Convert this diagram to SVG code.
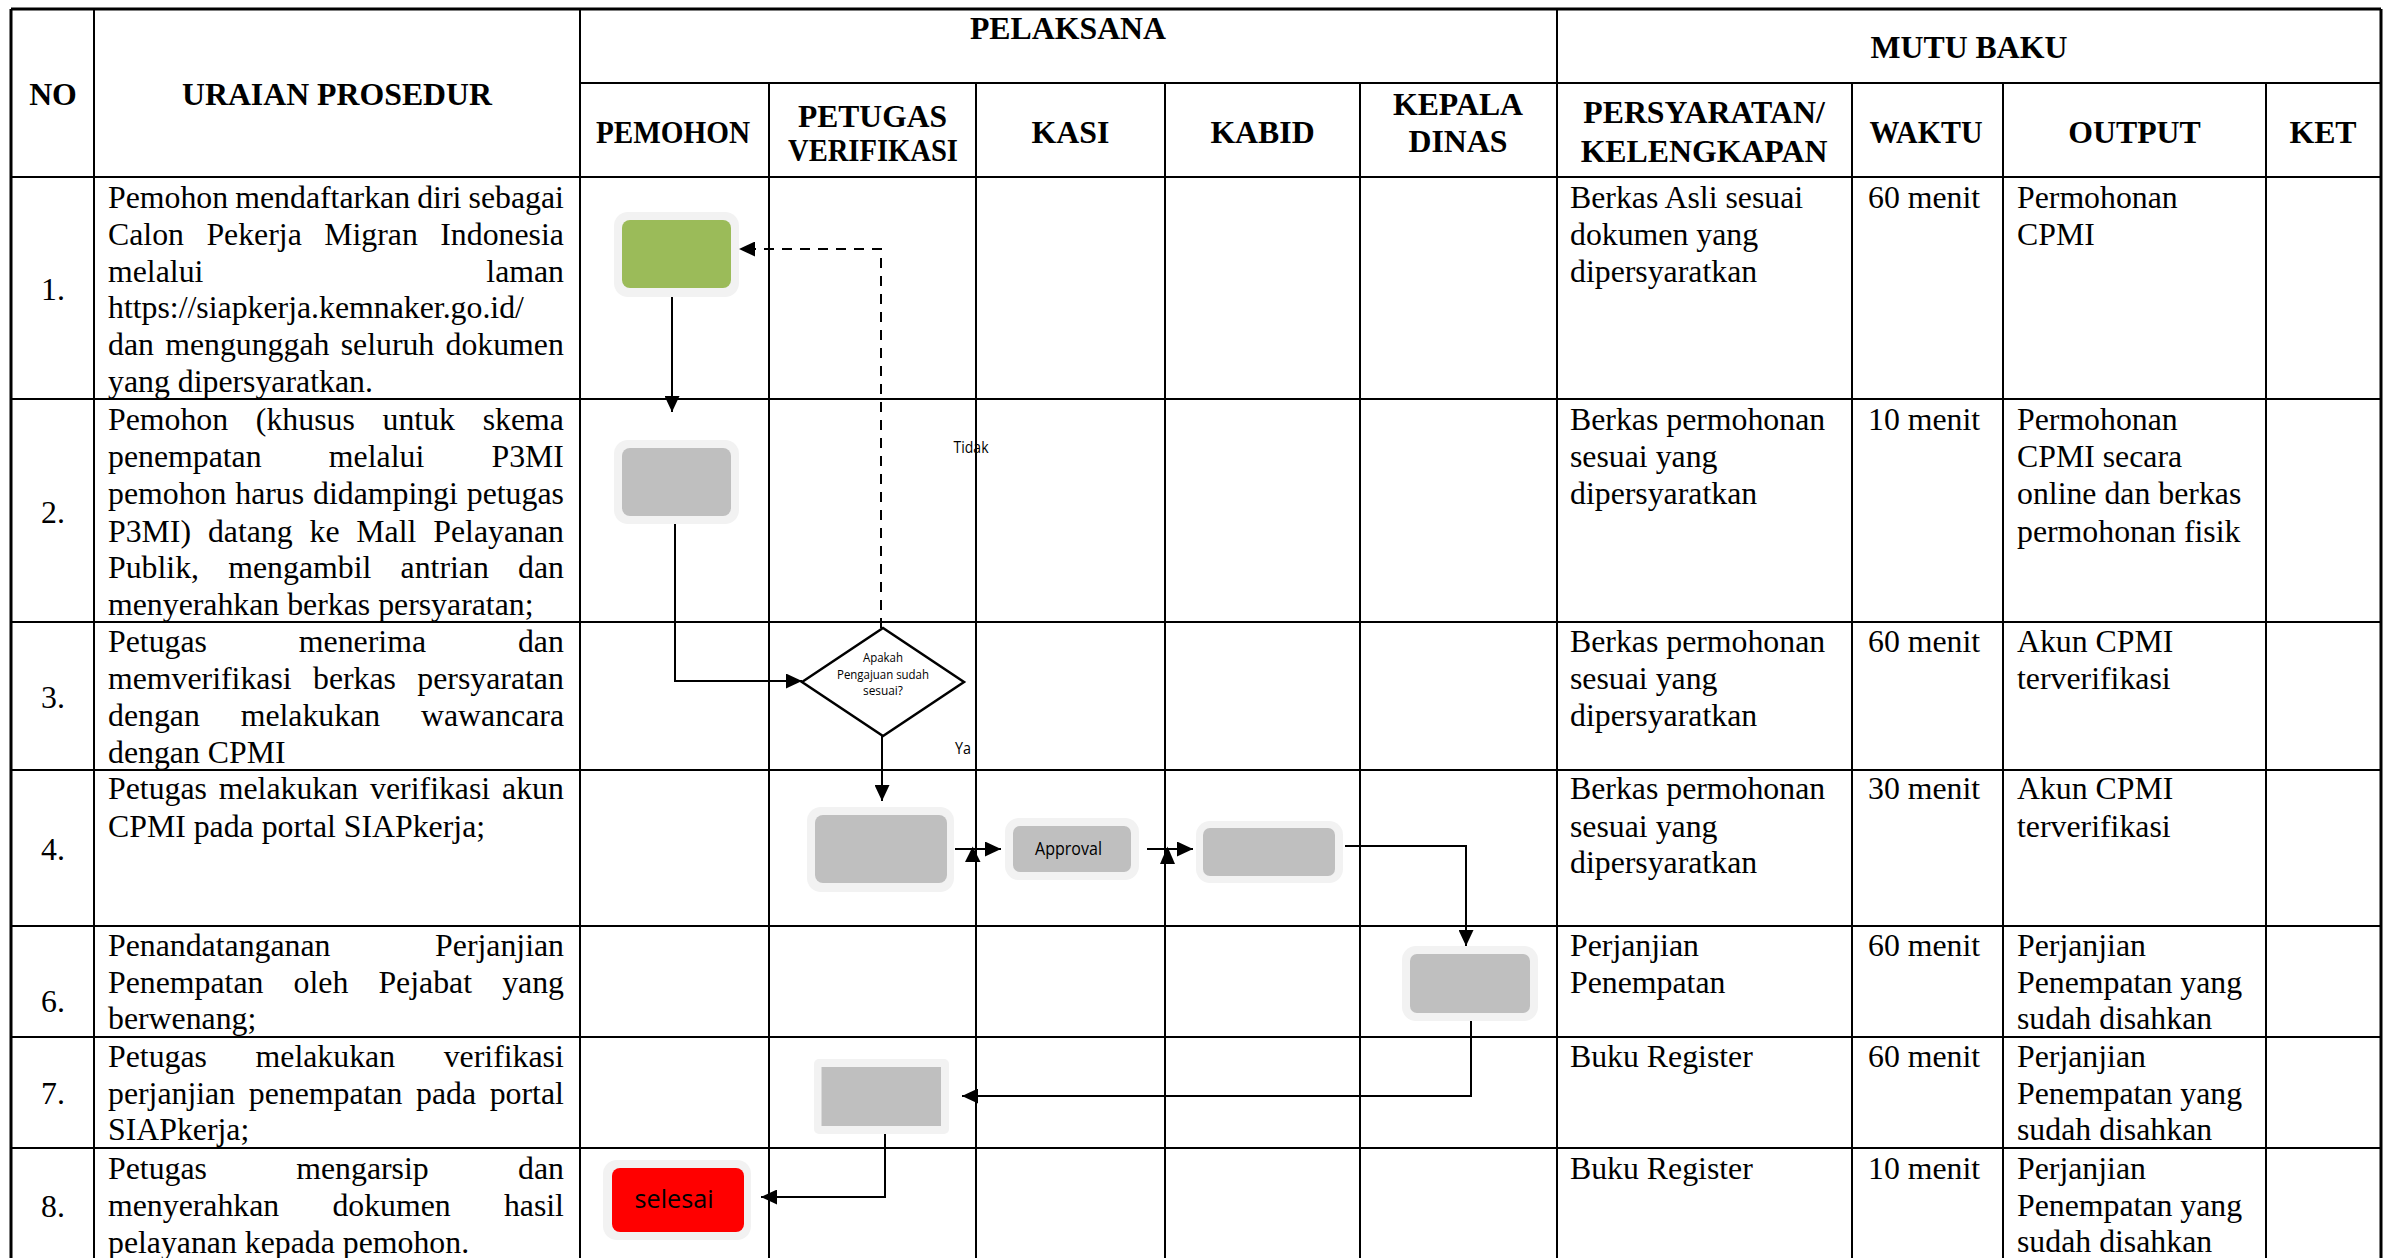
<svg xmlns="http://www.w3.org/2000/svg" width="2385" height="1258" viewBox="0 0 2385 1258">
<style>
.t{font-family:"Liberation Serif","Times New Roman",serif;font-size:31.8px;fill:#000}
.b{font-weight:bold;text-anchor:middle}
.m{text-anchor:middle}
.e{text-anchor:end}
.s{font-family:"Open Sans","Noto Sans",sans-serif;fill:#000}
.g{stroke:#000;stroke-width:2;fill:none}
.o{stroke:#000;stroke-width:3;fill:none}
.halo{fill:#F2F2F2}
.grey{fill:#BFBFBF}
.cn{stroke:#000;stroke-width:2;fill:none}
.dash{stroke-dasharray:10 8}
</style>
<defs>
<marker id="ah" markerUnits="userSpaceOnUse" markerWidth="16" markerHeight="15" refX="16" refY="7.5" orient="auto">
<path d="M0,0 L16,7.5 L0,15 z" fill="#000"/>
</marker>
</defs>
<rect x="0" y="0" width="2385" height="1258" fill="#fff"/>

<g id="grid">
<path class="o" d="M11,9 H2381 M11,9 V1258 M2381,9 V1258"/>
<path class="g" d="M580,83 H2381 M11,177 H2381 M11,399 H2381 M11,622 H2381 M11,770 H2381 M11,926 H2381 M11,1037 H2381 M11,1148 H2381"/>
<path class="g" d="M94,9 V1258 M580,9 V1258 M1557,9 V1258 M769,83 V1258 M976,83 V1258 M1165,83 V1258 M1360,83 V1258 M1852,83 V1258 M2003,83 V1258 M2266,83 V1258"/>
</g>

<g id="header">
<text class="t b" x="53" y="105">NO</text>
<text class="t b" x="337" y="105">URAIAN PROSEDUR</text>
<text class="t b" x="1068" y="39">PELAKSANA</text>
<text class="t b" x="1969" y="58">MUTU BAKU</text>
<text class="t b" x="673" y="143" textLength="154" lengthAdjust="spacingAndGlyphs">PEMOHON</text>
<text class="t b" x="872.5" y="127" textLength="149" lengthAdjust="spacingAndGlyphs">PETUGAS</text>
<text class="t b" x="873" y="161" textLength="170" lengthAdjust="spacingAndGlyphs">VERIFIKASI</text>
<text class="t b" x="1070.5" y="143">KASI</text>
<text class="t b" x="1262.5" y="143">KABID</text>
<text class="t b" x="1458" y="115">KEPALA</text>
<text class="t b" x="1458" y="152">DINAS</text>
<text class="t b" x="1704" y="123">PERSYARATAN/</text>
<text class="t b" x="1704" y="162">KELENGKAPAN</text>
<text class="t b" x="1926" y="143" textLength="113" lengthAdjust="spacingAndGlyphs">WAKTU</text>
<text class="t b" x="2134.5" y="143">OUTPUT</text>
<text class="t b" x="2323" y="143">KET</text>
</g>

<g id="numbers">
<text class="t m" x="53" y="300">1.</text>
<text class="t m" x="53" y="523">2.</text>
<text class="t m" x="53" y="708">3.</text>
<text class="t m" x="53" y="860">4.</text>
<text class="t m" x="53" y="1012">6.</text>
<text class="t m" x="53" y="1104">7.</text>
<text class="t m" x="53" y="1217">8.</text>
</g>

<g id="uraian">
<text class="t" x="108" y="208" style="word-spacing:-0.8px">Pemohon mendaftarkan diri sebagai</text>
<text class="t" x="108" y="245" style="word-spacing:14.5px">Calon Pekerja Migran Indonesia</text>
<text class="t" x="108" y="282">melalui</text><text class="t e" x="564" y="282">laman</text>
<text class="t" x="108" y="318">https://siapkerja.kemnaker.go.id/</text>
<text class="t" x="108" y="355" style="word-spacing:3.3px">dan mengunggah seluruh dokumen</text>
<text class="t" x="108" y="392">yang dipersyaratkan.</text>

<text class="t" x="108" y="430" style="word-spacing:19.8px">Pemohon (khusus untuk skema</text>
<text class="t" x="108" y="467" style="word-spacing:59.3px">penempatan melalui P3MI</text>
<text class="t" x="108" y="504" style="word-spacing:0.95px">pemohon harus didampingi petugas</text>
<text class="t" x="108" y="542" style="word-spacing:8.9px">P3MI) datang ke Mall Pelayanan</text>
<text class="t" x="108" y="578" style="word-spacing:21.3px">Publik, mengambil antrian dan</text>
<text class="t" x="108" y="615">menyerahkan berkas persyaratan;</text>

<text class="t" x="108" y="652" style="word-spacing:84px">Petugas menerima dan</text>
<text class="t" x="108" y="689" style="word-spacing:13.4px">memverifikasi berkas persyaratan</text>
<text class="t" x="108" y="726" style="word-spacing:32.9px">dengan melakukan wawancara</text>
<text class="t" x="108" y="763">dengan CPMI</text>

<text class="t" x="108" y="799" style="word-spacing:3.9px">Petugas melakukan verifikasi akun</text>
<text class="t" x="108" y="837">CPMI pada portal SIAPkerja;</text>

<text class="t" x="108" y="956">Penandatanganan</text><text class="t e" x="564" y="956">Perjanjian</text>
<text class="t" x="108" y="993" style="word-spacing:22.2px">Penempatan oleh Pejabat yang</text>
<text class="t" x="108" y="1029">berwenang;</text>

<text class="t" x="108" y="1067" style="word-spacing:40.7px">Petugas melakukan verifikasi</text>
<text class="t" x="108" y="1104" style="word-spacing:5.7px">perjanjian penempatan pada portal</text>
<text class="t" x="108" y="1140">SIAPkerja;</text>

<text class="t" x="108" y="1179" style="word-spacing:81.4px">Petugas mengarsip dan</text>
<text class="t" x="108" y="1216" style="word-spacing:45.2px">menyerahkan dokumen hasil</text>
<text class="t" x="108" y="1253">pelayanan kepada pemohon.</text>
</g>

<g id="mutu">
<text class="t" x="1570" y="208">Berkas Asli sesuai</text>
<text class="t" x="1570" y="245">dokumen yang</text>
<text class="t" x="1570" y="282">dipersyaratkan</text>
<text class="t" x="1868" y="208">60 menit</text>
<text class="t" x="2017" y="208">Permohonan</text>
<text class="t" x="2017" y="245">CPMI</text>

<text class="t" x="1570" y="430">Berkas permohonan</text>
<text class="t" x="1570" y="467">sesuai yang</text>
<text class="t" x="1570" y="504">dipersyaratkan</text>
<text class="t" x="1868" y="430">10 menit</text>
<text class="t" x="2017" y="430">Permohonan</text>
<text class="t" x="2017" y="467">CPMI secara</text>
<text class="t" x="2017" y="504">online dan berkas</text>
<text class="t" x="2017" y="542">permohonan fisik</text>

<text class="t" x="1570" y="652">Berkas permohonan</text>
<text class="t" x="1570" y="689">sesuai yang</text>
<text class="t" x="1570" y="726">dipersyaratkan</text>
<text class="t" x="1868" y="652">60 menit</text>
<text class="t" x="2017" y="652">Akun CPMI</text>
<text class="t" x="2017" y="689">terverifikasi</text>

<text class="t" x="1570" y="799">Berkas permohonan</text>
<text class="t" x="1570" y="837">sesuai yang</text>
<text class="t" x="1570" y="873">dipersyaratkan</text>
<text class="t" x="1868" y="799">30 menit</text>
<text class="t" x="2017" y="799">Akun CPMI</text>
<text class="t" x="2017" y="837">terverifikasi</text>

<text class="t" x="1570" y="956">Perjanjian</text>
<text class="t" x="1570" y="993">Penempatan</text>
<text class="t" x="1868" y="956">60 menit</text>
<text class="t" x="2017" y="956">Perjanjian</text>
<text class="t" x="2017" y="993">Penempatan yang</text>
<text class="t" x="2017" y="1029">sudah disahkan</text>

<text class="t" x="1570" y="1067">Buku Register</text>
<text class="t" x="1868" y="1067">60 menit</text>
<text class="t" x="2017" y="1067">Perjanjian</text>
<text class="t" x="2017" y="1104">Penempatan yang</text>
<text class="t" x="2017" y="1140">sudah disahkan</text>

<text class="t" x="1570" y="1179">Buku Register</text>
<text class="t" x="1868" y="1179">10 menit</text>
<text class="t" x="2017" y="1179">Perjanjian</text>
<text class="t" x="2017" y="1216">Penempatan yang</text>
<text class="t" x="2017" y="1252">sudah disahkan</text>
</g>

<g id="connectors">
<path class="cn" d="M672,297 V412" marker-end="url(#ah)"/>
<path class="cn" d="M675,524 V681 H802" marker-end="url(#ah)"/>
<path class="cn dash" d="M881,628 V249 H739" marker-end="url(#ah)"/>
<path class="cn" d="M882,736 V801" marker-end="url(#ah)"/>
<path class="cn" d="M955,849 H1001" marker-end="url(#ah)"/>
<path class="cn" d="M1147,849 H1193" marker-end="url(#ah)"/>
<polygon points="972.7,846.5 965,862 980.5,862" fill="#000"/>
<polygon points="1167.5,846.5 1160,864 1175,864" fill="#000"/>
<path class="cn" d="M1345,846 H1466 V946" marker-end="url(#ah)"/>
<path class="cn" d="M1471,1021 V1096 H962" marker-end="url(#ah)"/>
<path class="cn" d="M885,1134 V1197 H761" marker-end="url(#ah)"/>
<text class="s" x="953.5" y="453" font-size="16" textLength="35" lengthAdjust="spacingAndGlyphs">Tidak</text>
<text class="s" x="955" y="754" font-size="16" textLength="16" lengthAdjust="spacingAndGlyphs">Ya</text>
</g>

<g id="n1-daftar">
<rect class="halo" x="614" y="212" width="125" height="85" rx="14"/>
<rect x="622" y="220" width="109" height="68" rx="8" fill="#9BBB59"/>
</g>
<g id="n2-datang">
<rect class="halo" x="614" y="440" width="125" height="84" rx="14"/>
<rect class="grey" x="622" y="448" width="109" height="68" rx="8"/>
</g>
<g id="n3-keputusan">
<polygon points="802,682 883,628 964,682 883,736" fill="#fff" stroke="#000" stroke-width="2.5"/>
<text class="s" x="883" y="662" font-size="13" text-anchor="middle" textLength="40" lengthAdjust="spacingAndGlyphs">Apakah</text>
<text class="s" x="883" y="679" font-size="13" text-anchor="middle" textLength="92" lengthAdjust="spacingAndGlyphs">Pengajuan sudah</text>
<text class="s" x="883" y="695" font-size="13" text-anchor="middle" textLength="40" lengthAdjust="spacingAndGlyphs">sesuai?</text>
</g>
<g id="n4-verifikasi">
<rect class="halo" x="807" y="807" width="147" height="85" rx="14"/>
<rect class="grey" x="815" y="815" width="132" height="68" rx="8"/>
</g>
<g id="n5-approval">
<rect class="halo" x="1005" y="818" width="134" height="62" rx="14"/>
<rect class="grey" x="1013" y="826" width="118" height="46" rx="7"/>
<text class="s" x="1068.5" y="855" font-size="18" text-anchor="middle" textLength="67" lengthAdjust="spacingAndGlyphs">Approval</text>
</g>
<g id="n6-kabid">
<rect class="halo" x="1196" y="821" width="147" height="62" rx="14"/>
<rect class="grey" x="1203" y="828" width="132" height="48" rx="7"/>
</g>
<g id="n7-kadis">
<rect class="halo" x="1402" y="946" width="136" height="75" rx="14"/>
<rect class="grey" x="1410" y="954" width="120" height="59" rx="7"/>
</g>
<g id="n8-verifikasi-perjanjian">
<rect class="halo" x="814" y="1059" width="135" height="75" rx="5"/>
<rect class="grey" x="821.5" y="1067" width="119.5" height="59"/>
</g>
<g id="n9-selesai">
<rect class="halo" x="603" y="1160" width="148" height="80" rx="14"/>
<rect x="612" y="1168" width="132" height="64" rx="8" fill="#FF0000"/>
<text class="s" x="674" y="1208" font-size="26" text-anchor="middle" textLength="79" lengthAdjust="spacingAndGlyphs">selesai</text>
</g>
</svg>
